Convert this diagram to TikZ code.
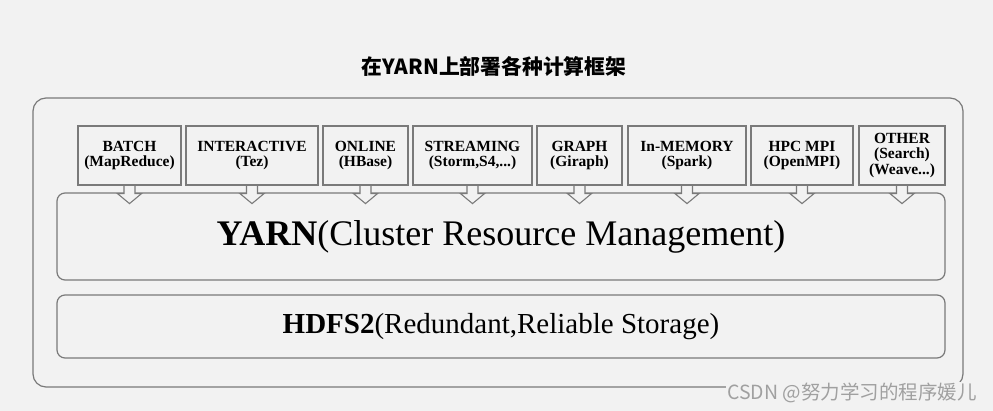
\documentclass[tikz,border=0pt]{standalone}
\usepackage{fontspec}
\setmainfont{Liberation Serif}
\newfontfamily\cjk{Noto Sans CJK SC}
\usetikzlibrary{calc}
\definecolor{bg}{HTML}{F2F2F2}
\definecolor{ln}{HTML}{7A7A7A}
\definecolor{wmc}{HTML}{A0A0A0}
\tikzset{
  appbox/.style={draw=ln, line width=1.2pt, fill=bg, inner sep=0pt, minimum height=59pt,
    align=center, font=\bfseries\fontsize{15.5}{15.5}\selectfont},
  layerbox/.style={draw=ln, line width=1.2pt, fill=bg, rounded corners=8pt, inner sep=0pt,
    minimum width=888pt},
  arrowshape/.style={draw=ln, line width=1.1pt, fill=bg, line join=miter}
}
\begin{document}
\begin{tikzpicture}[x=1pt,y=-1pt]
\fill[bg] (0,0) rectangle (993,411);
\useasboundingbox (0,0) rectangle (993,411);

\node (title) at (494,67) {\cjk\bfseries\fontsize{20.8}{24}\selectfont 在YARN上部署各种计算框架};

\node[draw=ln, line width=1.2pt, rounded corners=13pt, minimum width=930pt, minimum height=289pt, inner sep=0pt] (outer) at (498,242.5) {};

\node[layerbox, minimum height=87pt] (yarn) at (501,236.5)
  {\fontsize{36}{40}\selectfont\textbf{YARN}(Cluster Resource Management)};
\node[layerbox, minimum height=63pt] (hdfs) at (501,326.5)
  {\fontsize{29}{32}\selectfont\textbf{HDFS2}(Redundant,Reliable Storage)};

\node[appbox, minimum width=103pt] (b1) at (129.5,155.5) {BATCH\\(MapReduce)};
\node[appbox, minimum width=132pt] (b2) at (252,155.5) {INTERACTIVE\\(Tez)};
\node[appbox, minimum width=85pt] (b3) at (365.5,155.5) {ONLINE\\(HBase)};
\node[appbox, minimum width=119pt] (b4) at (472.5,155.5) {STREAMING\\(Storm,S4,...)};
\node[appbox, minimum width=85pt] (b5) at (579.5,155.5) {GRAPH\\(Giraph)};
\node[appbox, minimum width=118pt] (b6) at (687,155.5) {In-MEMORY\\(Spark)};
\node[appbox, minimum width=102pt] (b7) at (802,155.5) {HPC MPI\\(OpenMPI)};
\node[appbox, minimum width=86pt] (b8) at (902,155.5) {OTHER\\(Search)\\(Weave...)};

\foreach \n in {b1,b2,b3,b4,b5,b6,b7,b8}{
  \draw[arrowshape] ($(\n.south)+(-5.5,0.6)$) -- ($(\n.south)+(-5.5,8)$) -- ($(\n.south)+(-12,8)$)
    -- ($(\n.south)+(0,18)$) -- ($(\n.south)+(12,8)$) -- ($(\n.south)+(5.5,8)$) -- ($(\n.south)+(5.5,0.6)$);
}

\node[fill=bg, inner sep=1pt, text=wmc] (wm) at (852,393) {\cjk\fontsize{19.5}{22}\selectfont CSDN @努力学习的程序媛儿};
\end{tikzpicture}
\end{document}
